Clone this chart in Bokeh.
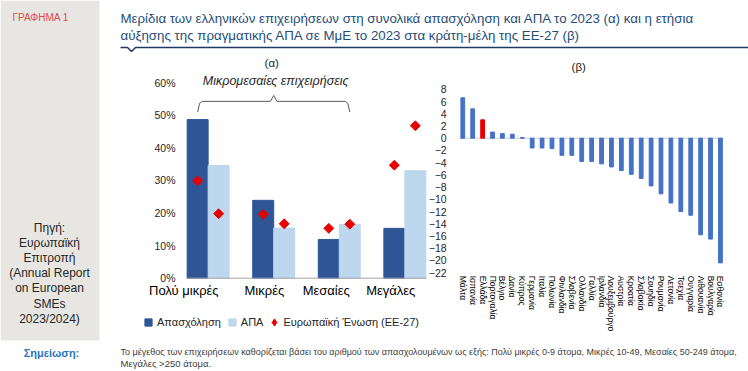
import numpy as np
from bokeh.plotting import figure
from bokeh.models import (ColumnDataSource, Label, LabelSet, Legend, LegendItem, LinearAxis,
                          FixedTicker, PrintfTickFormatter, Span, Range1d, BoxAnnotation)
from bokeh.core.properties import value
from bokeh.embed import file_html
from bokeh.resources import INLINE

FONT = "Liberation Sans"

# ---------------- data ----------------
categories = ["Πολύ μικρές", "Μικρές", "Μεσαίες", "Μεγάλες"]
employment = [48.7, 23.9, 11.9, 15.3]
gva = [34.6, 15.4, 16.5, 33.0]
eu_employment = [29.9, 19.6, 15.3, 34.7]
eu_gva = [19.8, 16.7, 16.6, 46.8]
legend_labels = ["Απασχόληση", "ΑΠΑ", "Ευρωπαϊκή Ένωση (ΕΕ-27)"]
pct_ticks = [0, 10, 20, 30, 40, 50, 60]

countries = ["Μάλτα", "Ισπανία", "Ελλάδα", "Πορτογαλία", "Βέλγιο", "Δανία", "Κύπρος",
             "Γερμανία", "Ιταλία", "Πολωνία", "Φινλανδία", "Σλοβενία", "Ολλανδία",
             "Γαλλία", "Ιρλανδία", "Λουξεμβούργο", "Αυστρία", "Κροατία", "Σλοβακία",
             "Σουηδία", "Ρουμανία", "Λετονία", "Τσεχία", "Ουγγαρία", "Λιθουανία",
             "Βουλγαρία", "Εσθονία"]
growth = [6.6, 4.8, 3.0, 1.0, 0.75, 0.65, 0.1, -1.6, -1.6, -1.7, -2.8, -2.8, -3.8,
          -3.8, -4.2, -4.7, -5.3, -5.9, -6.6, -7.8, -9.1, -10.6, -12.0, -12.6,
          -15.8, -16.5, -20.4]
growth_ticks = [-22, -20, -18, -16, -14, -12, -10, -8, -6, -4, -2, 0, 2, 4, 6, 8]
highlight = "Ελλάδα"

fig_label = "ΓΡΑΦΗΜΑ 1"
title_lines = ["Μερίδια των ελληνικών επιχειρήσεων στη συνολικά απασχόληση και ΑΠΑ το 2023 (α) και η ετήσια",
               "αύξησης της πραγματικής ΑΠΑ σε ΜμΕ το 2023 στα κράτη-μέλη της ΕΕ-27 (β)"]
source_lines = ["Πηγή:", "Ευρωπαϊκή", "Επιτροπή", "(Annual Report", "on European", "SMEs", "2023/2024)"]
note_head = "Σημείωση:"
note_lines = ["Το μέγεθος των επιχειρήσεων καθορίζεται βάσει του αριθμού των απασχολουμένων ως εξής: "
              "Πολύ μικρές 0-9 άτομα, Μικρές 10-49, Μεσαίες 50-249 άτομα,",
              "Μεγάλες >250 άτομα."]
sme_label = "Μικρομεσαίες επιχειρήσεις"
panel_a = "(α)"
panel_b = "(β)"

DARK = "#2F5597"
LIGHT = "#BDD7EE"
RED = "#E60000"
BLUE = "#4472C4"
TXT = "#262626"

W, H = 748, 370


def place(p0, v0, scale, lo, hi):
    """Range whose value v0 sits at canvas pixel p0 with `scale` pixels per unit."""
    return Range1d(v0 - (p0 - lo) / scale, v0 + (hi - p0) / scale)


def place_y(p0, v0, scale):
    # canvas y grows downwards
    return Range1d(v0 - (H - p0) / scale, v0 + p0 / scale)


p = figure(width=W, height=H, x_range=Range1d(0, W), y_range=Range1d(H, 0),
           output_backend="svg", toolbar_location=None, min_border=0, title=None,
           x_axis_type=None, y_axis_type=None, outline_line_color=None)
p.grid.visible = False

bw = 0.32
p.extra_x_ranges = {"a": place(186, -bw - 0.01, 65.57, 0, W),
                    "b": place(462.3, 1, 9.91, 0, W)}
p.extra_y_ranges = {"a": place_y(277.7, 0, 3.257),
                    "b": place_y(137.7, 0, 6.113)}

# ---------------- left grey panel, title, notes ----------------
p.add_layout(BoxAnnotation(left=0, right=99, top=0, bottom=340, fill_color="#E7E6E2",
                           fill_alpha=1, line_color=None, level="underlay"))
p.add_layout(Label(x=12, y=17, text=fig_label, text_font=FONT, text_font_size="10px",
                   text_color="#E04B4B", text_baseline="middle", text_align="left"))
for i, s in enumerate(source_lines):
    p.add_layout(Label(x=49, y=227 + i * 15.2, text=s, text_font=FONT, text_font_size="12px",
                       text_color=TXT, text_baseline="middle", text_align="center"))
p.add_layout(Label(x=51, y=352, text=note_head, text_font=FONT, text_font_size="11px",
                   text_font_style="bold", text_color="#2E75B6", text_baseline="middle",
                   text_align="center"))
for i, s in enumerate(title_lines):
    p.add_layout(Label(x=120, y=18 + i * 17, text=s, text_font=FONT, text_font_size="13.3px",
                       text_color="#1F4E79", text_baseline="middle", text_align="left"))
ul_y, notch_x, notch_w, notch_d = 47, 131, 4, 4
p.line(x=[120, notch_x - notch_w, notch_x, notch_x + notch_w, W],
       y=[ul_y, ul_y, ul_y + notch_d, ul_y, ul_y], line_color="#1F3864", line_width=1.5)
p.add_layout(Label(x=120, y=351, text=note_lines[0], text_font=FONT, text_font_size="9px",
                   text_color="#404040", text_baseline="middle", text_align="left"))
p.add_layout(Label(x=120, y=362.5, text=note_lines[1], text_font=FONT, text_font_size="9.5px",
                   text_color="#404040", text_baseline="middle", text_align="left"))

# ---------------- chart (α) ----------------
xa = list(range(len(categories)))
src_a = ColumnDataSource(dict(x=xa, x_emp=[v - bw / 2 for v in xa], x_gva=[v + bw / 2 for v in xa],
                              cat=categories, emp=employment, gva=gva,
                              eu_emp=eu_employment, eu_gva=eu_gva))
RA = dict(x_range_name="a", y_range_name="a")
p.vbar(x="x_emp", top="emp", width=bw, source=src_a, color=DARK, **RA)
p.vbar(x="x_gva", top="gva", width=bw, source=src_a, color=LIGHT, **RA)
x_lo, x_hi = xa[0] - bw - 0.01, xa[-1] + bw + 0.01
p.line(x=[x_lo, x_hi], y=[0, 0], line_color="#A6A6A6", line_width=1, **RA)
p.scatter(x="x_emp", y="eu_emp", source=src_a, marker="square", angle=np.pi / 4, size=7,
          color=RED, **RA)
p.scatter(x="x_gva", y="eu_gva", source=src_a, marker="square", angle=np.pi / 4, size=7,
          color=RED, **RA)

ya = LinearAxis(x_range_name="a", y_range_name="a", fixed_location=x_lo,
                ticker=FixedTicker(ticks=pct_ticks), formatter=PrintfTickFormatter(format="%d%%"),
                axis_line_color=None, major_tick_line_color=None, minor_tick_line_color=None,
                major_tick_out=0, major_tick_in=0, major_label_standoff=11,
                major_label_text_font=FONT, major_label_text_font_size="10.5px",
                major_label_text_color=TXT)
p.add_layout(ya, "left")

p.add_layout(LabelSet(x="x_gva", y=0, text="cat", source=src_a, text_align="right",
                      text_baseline="top", y_offset=-5, text_font=value(FONT),
                      text_font_size="13px", text_color="#000000", **RA))

# brace over the three SME categories
b_left, b_right = xa[0] - bw / 2, xa[2] + bw / 2
b_mid = (b_left + b_right) / 2
by0, by1, by2 = 51.0, 54.3, 56.1
p.line(x=[b_left, b_left + 0.03, b_left + 0.07, b_mid - 0.05, b_mid, b_mid + 0.05,
          b_right - 0.07, b_right - 0.03, b_right],
       y=[by0, by1 - 0.6, by1, by1, by2, by1, by1, by1 - 0.6, by0],
       line_color="#595959", line_width=1, **RA)
p.add_layout(Label(x=b_mid + 0.03, y=60.7, text=sme_label, text_font=FONT,
                   text_font_size="12.5px", text_font_style="italic", text_color=TXT,
                   text_align="center", text_baseline="middle", **RA))
p.add_layout(Label(x=b_mid - 0.03, y=66.2, text=panel_a, text_font=FONT,
                   text_font_size="11.5px", text_color=TXT, text_align="center",
                   text_baseline="middle", **RA))

# legend swatches (hidden renderers, only their legend glyph is shown)
d1 = p.scatter(x="x_emp", y="emp", source=src_a, marker="square", color=DARK, visible=False, **RA)
d2 = p.scatter(x="x_gva", y="gva", source=src_a, marker="square", color=LIGHT, visible=False, **RA)
d3 = p.scatter(x="x_emp", y="eu_emp", source=src_a, marker="diamond", color=RED, visible=False, **RA)
leg = Legend(items=[LegendItem(label=legend_labels[0], renderers=[d1]),
                    LegendItem(label=legend_labels[1], renderers=[d2]),
                    LegendItem(label=legend_labels[2], renderers=[d3])],
             orientation="horizontal", location=(139, H - 331), glyph_width=18, glyph_height=18,
             label_height=18, label_standoff=0, spacing=2, padding=0, margin=0,
             border_line_color=None, background_fill_alpha=0, inactive_fill_alpha=0,
             label_text_font=FONT, label_text_font_size="11px", label_text_color=TXT)
p.add_layout(leg, "center")

# ---------------- chart (β) ----------------
xs = list(range(1, len(countries) + 1))
colors = [RED if c == highlight else BLUE for c in countries]
src_b = ColumnDataSource(dict(x=xs, country=countries, growth=growth, color=colors))
RB = dict(x_range_name="b", y_range_name="b")
b_lo, b_hi = xs[0] - 0.32, xs[-1] + 0.32
p.line(x=[b_lo, b_hi], y=[0, 0], line_color="#C5CCD8", line_width=1, **RB)
p.vbar(x="x", top="growth", bottom=0, width=0.38, source=src_b, color="color", **RB)

yb = LinearAxis(x_range_name="b", y_range_name="b", fixed_location=b_lo,
                ticker=FixedTicker(ticks=growth_ticks), axis_line_color=None,
                major_tick_line_color=None, minor_tick_line_color=None,
                major_tick_out=0, major_tick_in=0, major_label_standoff=13,
                major_label_text_font=FONT, major_label_text_font_size="10.5px",
                major_label_text_color=TXT)
p.add_layout(yb, "left")
xb = LinearAxis(x_range_name="b", y_range_name="b", fixed_location=growth_ticks[0],
                ticker=FixedTicker(ticks=xs),
                major_label_overrides={x: c for x, c in zip(xs, countries)},
                major_label_orientation="vertical", axis_line_color=None,
                major_tick_line_color=None, minor_tick_line_color=None,
                major_tick_out=0, major_tick_in=0, major_label_standoff=3,
                major_label_text_font=FONT, major_label_text_font_size="8.5px",
                major_label_text_color="#000000")
p.add_layout(xb, "below")
p.add_layout(Label(x=12.7, y=11.7, text=panel_b, text_font=FONT, text_font_size="11.5px",
                   text_color=TXT, text_align="center", text_baseline="middle", **RB))

open("out.html", "w").write(file_html(p, INLINE))
